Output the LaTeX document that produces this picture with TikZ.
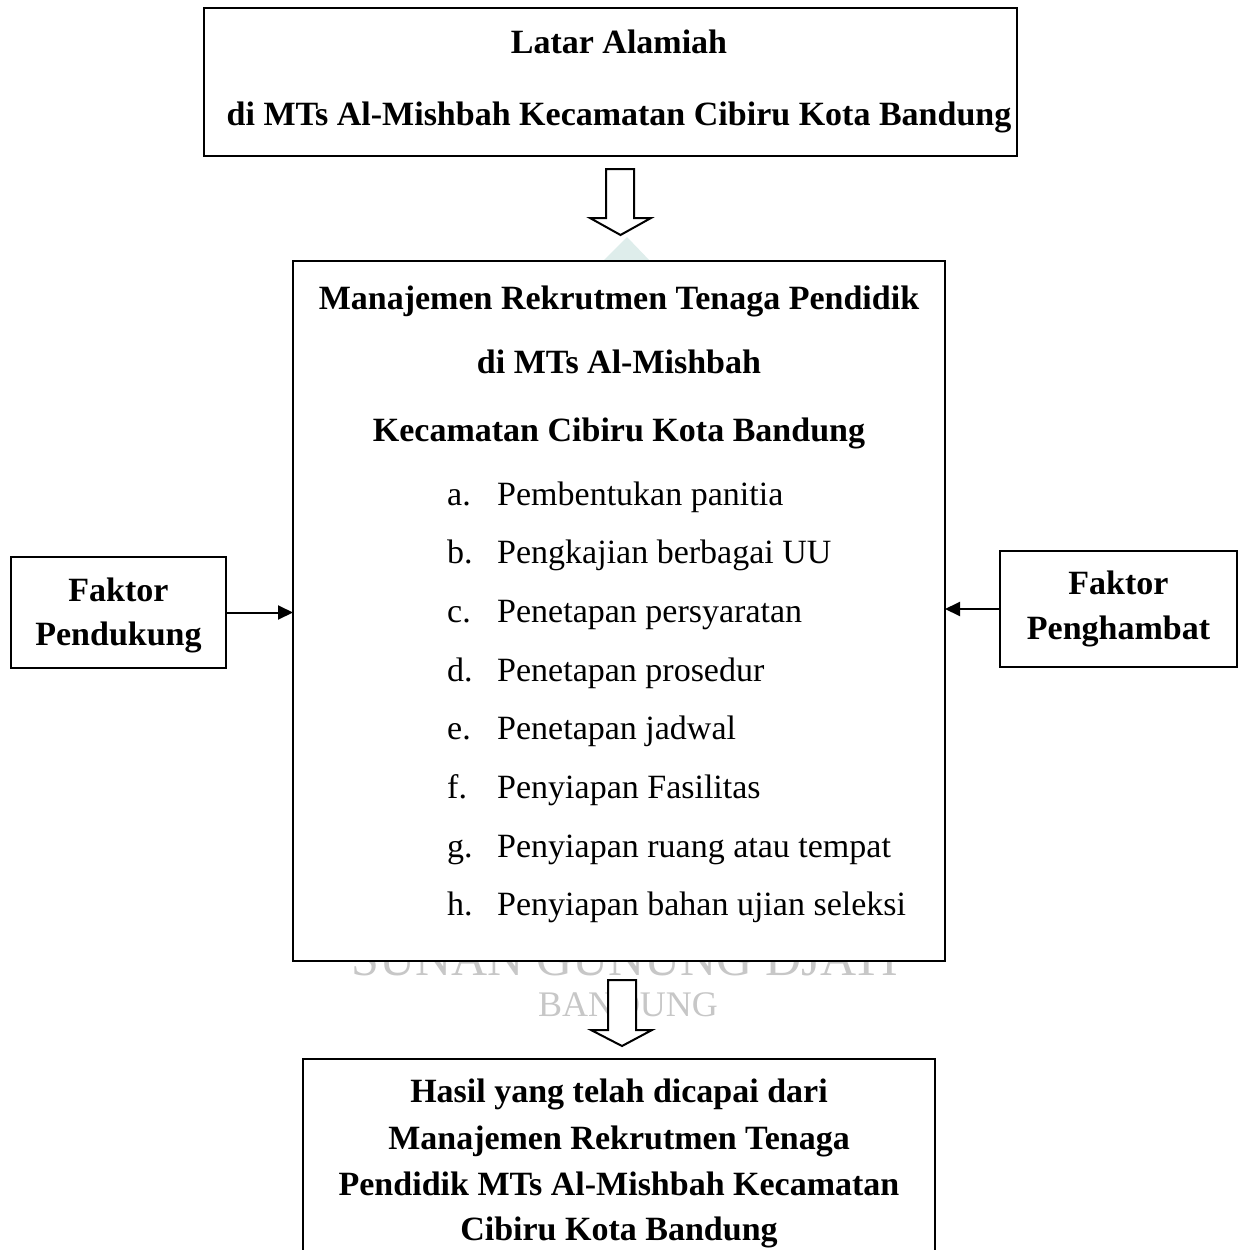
\documentclass[tikz,border=0pt]{standalone}
\usepackage{fontspec}
\setmainfont{Liberation Serif}
\usetikzlibrary{arrows.meta,calc}
\definecolor{logoc}{RGB}{222,237,235}
\begin{document}
\begin{tikzpicture}[x=1pt,y=-1pt,
  box/.style={draw=black,line width=2pt,fill=white,inner sep=0pt,outer sep=0pt},
  hd/.style={font=\bfseries\fontsize{34}{40}\selectfont,inner sep=0pt,anchor=base},
  itm/.style={font=\fontsize{34}{40}\selectfont,inner sep=0pt,anchor=base west},
  blockarrow/.style={draw=black,line width=2pt,fill=white,line join=miter},
  side/.style={line width=2pt,-{Triangle[length=15pt,width=14pt]}},
  wm/.style={text=black!22,inner sep=0pt,anchor=base}
]
\useasboundingbox (0,0) rectangle (1245,1250);
\clip (0,0) rectangle (1245,1250);
\fill[white] (0,0) rectangle (1245,1250);

% watermark (partly hidden behind boxes)
\node[wm,font=\fontsize{50}{55}\selectfont] (wm1) at (625,975) {SUNAN GUNUNG DJATI};
\node[wm,font=\fontsize{36}{40}\selectfont] (wm2) at (628,1016) {BANDUNG};
\fill[logoc] (602,262) -- (627,237) -- (651,262) -- cycle;

% boxes
\node[box,minimum width=813,minimum height=148] (top) at (610.5,82) {};
\node[box,minimum width=652,minimum height=700] (main) at (619,611) {};
\node[box,minimum width=215,minimum height=111] (lbox) at (118.5,612.5) {};
\node[box,minimum width=237,minimum height=116] (rbox) at (1118.5,609) {};
\node[box,minimum width=632,minimum height=230] (bot) at (619,1174) {};

% top box text
\node[hd] (t1) at (619,53) {Latar Alamiah};
\node[hd] (t2) at (619,125) {di MTs Al-Mishbah Kecamatan Cibiru Kota Bandung};

% main box text
\node[hd] (m1) at (619,309) {Manajemen Rekrutmen Tenaga Pendidik};
\node[hd] (m2) at (619,373) {di MTs Al-Mishbah};
\node[hd] (m3) at (619,441) {Kecamatan Cibiru Kota Bandung};
\foreach \l/\t [count=\i from 0] in {a./Pembentukan panitia,
  b./Pengkajian berbagai UU,
  c./Penetapan persyaratan,
  d./Penetapan prosedur,
  e./Penetapan jadwal,
  f./Penyiapan Fasilitas,
  g./Penyiapan ruang atau tempat,
  h./Penyiapan bahan ujian seleksi}{
  \node[itm] (la\i) at (447,505+58.7*\i) {\l};
  \node[itm] (li\i) at (497,505+58.7*\i) {\t};
}

% side boxes
\node[hd] (l1) at (118.5,601) {Faktor};
\node[hd] (l2) at (118.5,645) {Pendukung};
\node[hd] (r1) at (1118.5,594) {Faktor};
\node[hd] (r2) at (1118.5,639) {Penghambat};

% bottom box text
\node[hd] (b1) at (619,1102) {Hasil yang telah dicapai dari};
\node[hd] (b2) at (619,1149) {Manajemen Rekrutmen Tenaga};
\node[hd] (b3) at (619,1195) {Pendidik MTs Al-Mishbah Kecamatan};
\node[hd] (b4) at (619,1240) {Cibiru Kota Bandung};

% connectors
\draw[side] (lbox.east) -- (lbox.east -| main.west);
\draw[side] (rbox.west) -- (rbox.west -| main.east);
\draw[blockarrow] (606,169) -- (634,169) -- (634,218) -- (651,218) -- (620.5,235) -- (590,218) -- (606,218) -- cycle;
\draw[blockarrow] (608,980) -- (636,980) -- (636,1030) -- (652,1030) -- (622,1046) -- (591,1030) -- (608,1030) -- cycle;
\end{tikzpicture}
\end{document}
